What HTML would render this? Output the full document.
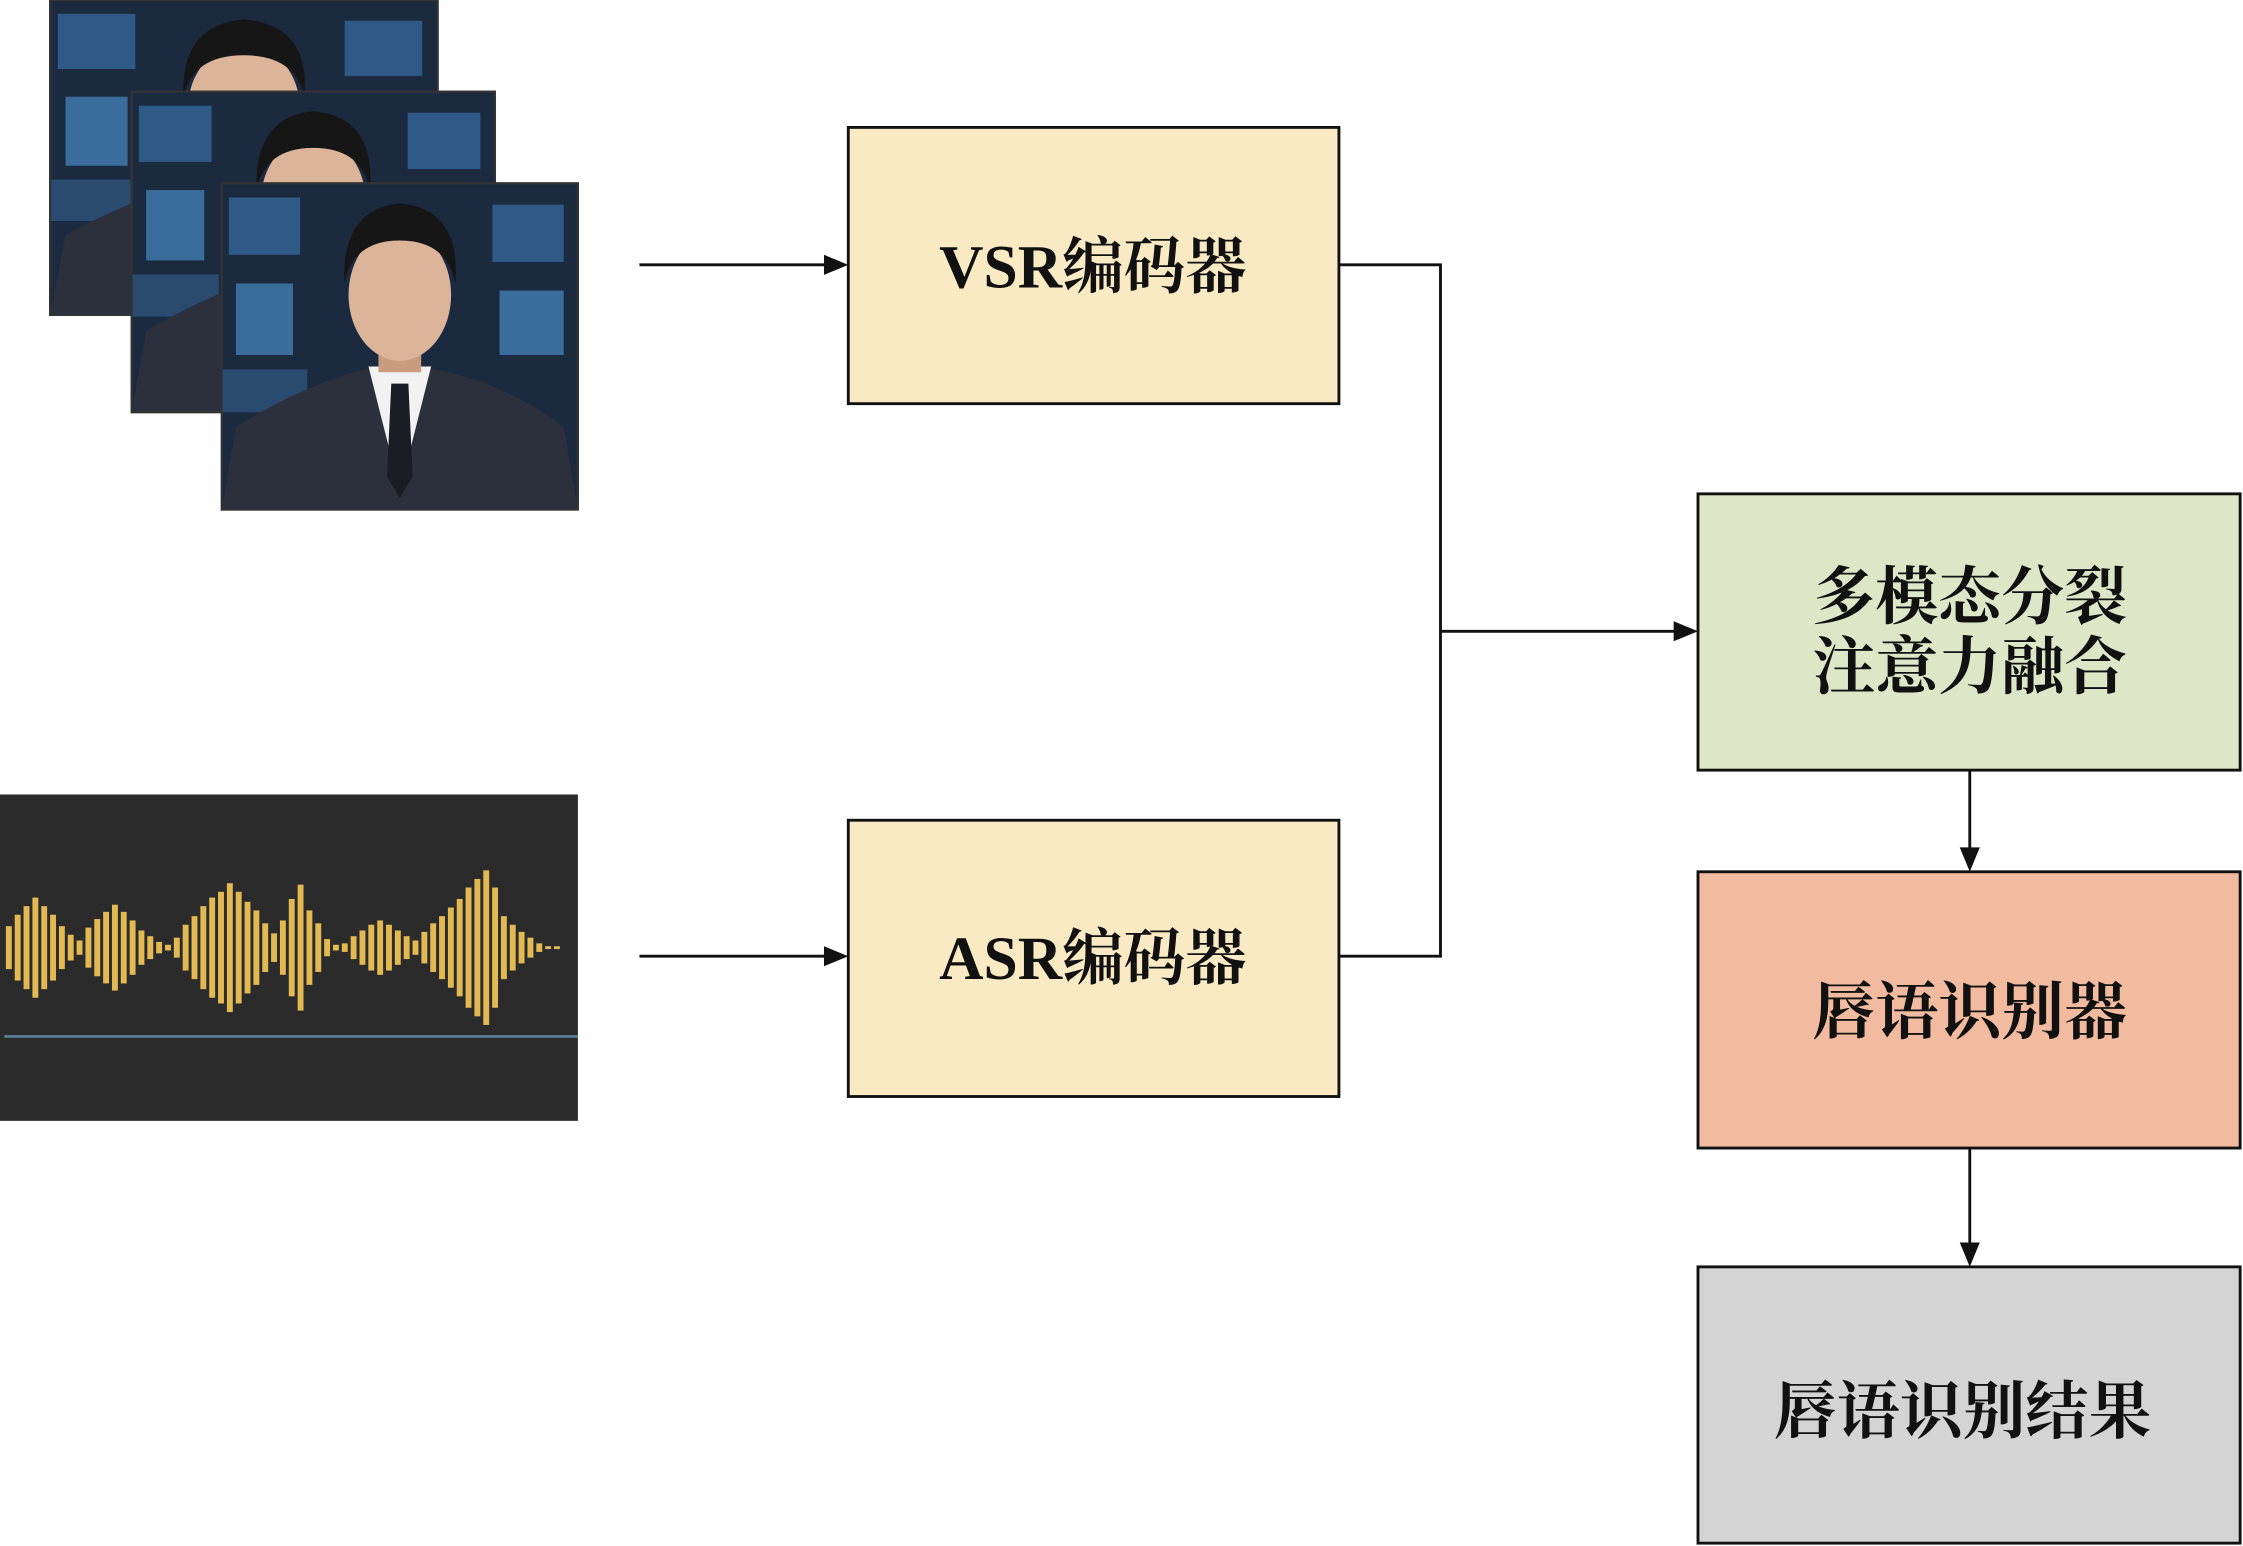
<!DOCTYPE html>
<html><head><meta charset="utf-8"><style>
html,body{margin:0;padding:0;background:#fff;}
svg{display:block;}
text{font-family:"Liberation Serif","Noto Serif CJK SC",serif;font-weight:bold;fill:#111;}
</style></head><body>
<svg width="2243" height="1546" viewBox="0 0 1568 1080" preserveAspectRatio="none" xmlns="http://www.w3.org/2000/svg">
<defs>
<symbol id="fr" viewBox="0 0 250 228" preserveAspectRatio="none">
<rect width="250" height="228" fill="#1c2a40"/>
<rect x="5" y="10" width="50" height="40" fill="#2f5a88"/>
<rect x="10" y="70" width="40" height="50" fill="#3a6d9c"/>
<rect x="190" y="15" width="50" height="40" fill="#2f5a88"/>
<rect x="195" y="75" width="45" height="45" fill="#3a6d9c"/>
<rect x="0" y="130" width="60" height="30" fill="#2a4a70"/>
<path d="M0 228 L10 170 Q60 140 100 130 L150 130 Q200 140 240 170 L250 228 Z" fill="#2b303c"/>
<path d="M103 128 L147 128 L125 215 Z" fill="#f2f2f2"/>
<path d="M119 140 L131 140 L134 205 L125 220 L116 205 Z" fill="#1a1d26"/>
<rect x="110" y="100" width="30" height="32" fill="#c99c80"/>
<ellipse cx="125" cy="78" rx="36" ry="46" fill="#dcb49a"/>
<path d="M86 70 Q84 18 125 14 Q168 18 164 70 Q158 40 125 40 Q92 40 86 70 Z" fill="#161616"/>
</symbol>
</defs>
<use href="#fr" x="35" y="0" width="271" height="220"/>
<rect x="35" y="0" width="271" height="220" fill="none" stroke="#333" stroke-width="1.5"/>
<use href="#fr" x="92" y="64" width="254" height="224"/>
<rect x="92" y="64" width="254" height="224" fill="none" stroke="#333" stroke-width="1.5"/>
<use href="#fr" x="155" y="128" width="249" height="228"/>
<rect x="155" y="128" width="249" height="228" fill="none" stroke="#333" stroke-width="1.5"/>

<rect x="0" y="555" width="404" height="228" fill="#2b2b2b"/>
<line x1="3" y1="724" x2="404" y2="724" stroke="#5a7a92" stroke-width="2"/>
<g fill="#e2b952" transform="translate(0,0) scale(1.03,1)">
<rect x="4" y="647" width="4" height="30"/><rect x="10" y="639" width="4" height="46"/><rect x="16" y="633" width="4" height="58"/><rect x="22" y="627" width="4" height="70"/><rect x="28" y="633" width="4" height="58"/><rect x="34" y="639" width="4" height="46"/><rect x="40" y="647" width="4" height="30"/><rect x="46" y="653" width="4" height="18"/><rect x="52" y="657" width="4" height="10"/><rect x="58" y="648" width="4" height="28"/><rect x="64" y="642" width="4" height="40"/><rect x="70" y="637" width="4" height="50"/><rect x="76" y="632" width="4" height="60"/><rect x="82" y="637" width="4" height="50"/><rect x="88" y="643" width="4" height="38"/><rect x="94" y="650" width="4" height="24"/><rect x="100" y="654" width="4" height="16"/><rect x="106" y="658" width="4" height="8"/><rect x="112" y="660" width="4" height="4"/><rect x="118" y="655" width="4" height="14"/><rect x="124" y="646" width="4" height="32"/><rect x="130" y="640" width="4" height="44"/><rect x="136" y="633" width="4" height="58"/><rect x="142" y="627" width="4" height="70"/><rect x="148" y="623" width="4" height="78"/><rect x="154" y="617" width="4" height="90"/><rect x="160" y="623" width="4" height="78"/><rect x="166" y="630" width="4" height="64"/><rect x="172" y="636" width="4" height="52"/><rect x="178" y="645" width="4" height="34"/><rect x="184" y="652" width="4" height="20"/><rect x="190" y="643" width="4" height="38"/><rect x="196" y="628" width="4" height="68"/><rect x="202" y="618" width="4" height="88"/><rect x="208" y="636" width="4" height="52"/><rect x="214" y="645" width="4" height="34"/><rect x="220" y="656" width="4" height="12"/><rect x="226" y="660" width="4" height="4"/><rect x="232" y="659" width="4" height="6"/><rect x="238" y="654" width="4" height="16"/><rect x="244" y="650" width="4" height="24"/><rect x="250" y="646" width="4" height="32"/><rect x="256" y="643" width="4" height="38"/><rect x="262" y="646" width="4" height="32"/><rect x="268" y="650" width="4" height="24"/><rect x="274" y="654" width="4" height="16"/><rect x="280" y="657" width="4" height="10"/><rect x="286" y="651" width="4" height="22"/><rect x="292" y="645" width="4" height="34"/><rect x="298" y="640" width="4" height="44"/><rect x="304" y="634" width="4" height="56"/><rect x="310" y="628" width="4" height="68"/><rect x="316" y="620" width="4" height="84"/><rect x="322" y="614" width="4" height="96"/><rect x="328" y="608" width="4" height="108"/><rect x="334" y="620" width="4" height="84"/><rect x="340" y="640" width="4" height="44"/><rect x="346" y="646" width="4" height="32"/><rect x="352" y="651" width="4" height="22"/><rect x="358" y="655" width="4" height="14"/><rect x="364" y="659" width="4" height="6"/><rect x="370" y="661" width="4" height="2"/><rect x="376" y="661" width="4" height="2"/>
</g>

<g fill="none" stroke="#111" stroke-width="2">
<rect x="593" y="89" width="343" height="193" fill="#faeac3"/>
<rect x="593" y="573" width="343" height="193" fill="#faeac3"/>
<rect x="1187" y="345" width="379" height="193" fill="#dde7c8"/>
<rect x="1187" y="609" width="379" height="193" fill="#f2bba0"/>
<rect x="1187" y="885" width="379" height="193" fill="#d4d4d4"/>
<line x1="447" y1="185" x2="580" y2="185"/>
<line x1="447" y1="668" x2="580" y2="668"/>
<polyline points="936,185 1007,185 1007,668 936,668"/>
<line x1="1007" y1="441" x2="1174" y2="441"/>
<line x1="1377" y1="538" x2="1377" y2="596"/>
<line x1="1377" y1="802" x2="1377" y2="872"/>
</g>
<g fill="#111">
<polygon points="593,185 576,178 576,192"/>
<polygon points="593,668 576,661 576,675"/>
<polygon points="1187,441 1170,434 1170,448"/>
<polygon points="1377,609 1370,592 1384,592"/>
<polygon points="1377,885 1370,868 1384,868"/>
</g>
<text x="764" y="201" font-size="43" text-anchor="middle">VSR编码器</text>
<text x="764" y="684" font-size="43" text-anchor="middle">ASR编码器</text>
<text x="1377" y="432" font-size="44" text-anchor="middle">多模态分裂</text>
<text x="1377" y="481" font-size="44" text-anchor="middle">注意力融合</text>
<text x="1377" y="722" font-size="44" text-anchor="middle">唇语识别器</text>
<text x="1372" y="1001" font-size="44" text-anchor="middle">唇语识别结果</text>
</svg>
</body></html>
